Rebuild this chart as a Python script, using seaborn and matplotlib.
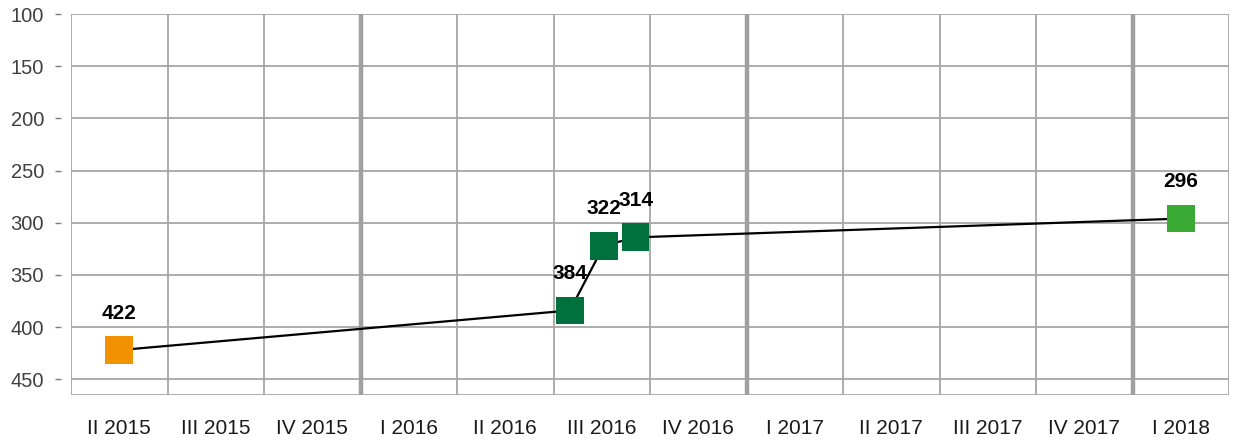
import matplotlib
matplotlib.use("Agg")
import matplotlib.pyplot as plt
import seaborn as sns
import pandas as pd

quarters = ["II 2015", "III 2015", "IV 2015", "I 2016", "II 2016", "III 2016",
            "IV 2016", "I 2017", "II 2017", "III 2017", "IV 2017", "I 2018"]
x_pos = [0.0, 4.67, 5.02, 5.35, 11.0]
values = [422, 384, 322, 314, 296]
groups = ["a", "b", "b", "b", "c"]
palette = {"a": "#F39200", "b": "#00703C", "c": "#3AAA35"}
y_ticks = [100, 150, 200, 250, 300, 350, 400, 450]

df = pd.DataFrame({"x": x_pos, "y": values, "g": groups})

sns.set_style("white")
plt.rcParams['font.family'] = ['Liberation Sans', 'DejaVu Sans']

fig = plt.figure(figsize=(12.34, 4.41), dpi=100)
ax = fig.add_axes([71/1234, 1-395/441, (1229-71)/1234, (395-14)/441])

grid_c = "#A6A6A6"
ax.set_xlim(-0.5, len(quarters) - 0.5)
ax.set_ylim(465, 100)

for yv in y_ticks + [465]:
    ax.axhline(yv, color=grid_c, lw=1.3, zorder=0)
for i in range(len(quarters) + 1):
    xb = i - 0.5
    thick = quarters[i].startswith("I ") if 0 < i < len(quarters) else False
    ax.axvline(xb, color="#A0A0A0" if thick else grid_c, lw=3.2 if thick else 1.3, zorder=0)

sns.lineplot(data=df, x="x", y="y", color="black", lw=1.6, ax=ax, zorder=2)
sns.scatterplot(data=df, x="x", y="y", hue="g", palette=palette, marker="s",
                s=400, linewidth=0, ax=ax, legend=False, zorder=3)

for xv, yv in zip(x_pos, values):
    ax.annotate(str(yv), (xv, yv), xytext=(0, 22.5), textcoords="offset points",
                ha="center", va="baseline", fontsize=15, fontweight="bold", color="black")

ax.spines["left"].set_position(("outward", 7))
for s in ax.spines.values():
    s.set_visible(False)

ax.set_xticks(range(len(quarters)))
ax.set_xticklabels(quarters, fontsize=15, color="#1a1a1a")
ax.set_yticks(y_ticks)
ax.set_yticklabels([str(v) for v in y_ticks], fontsize=14.5, color="#404040")
ax.tick_params(axis="x", length=0, pad=17)
ax.tick_params(axis="y", length=4.5, width=1, color="#7f7f7f", direction="out", pad=8, left=True)
ax.set_xlabel("")
ax.set_ylabel("")

fig.savefig("out.png", dpi=100)
